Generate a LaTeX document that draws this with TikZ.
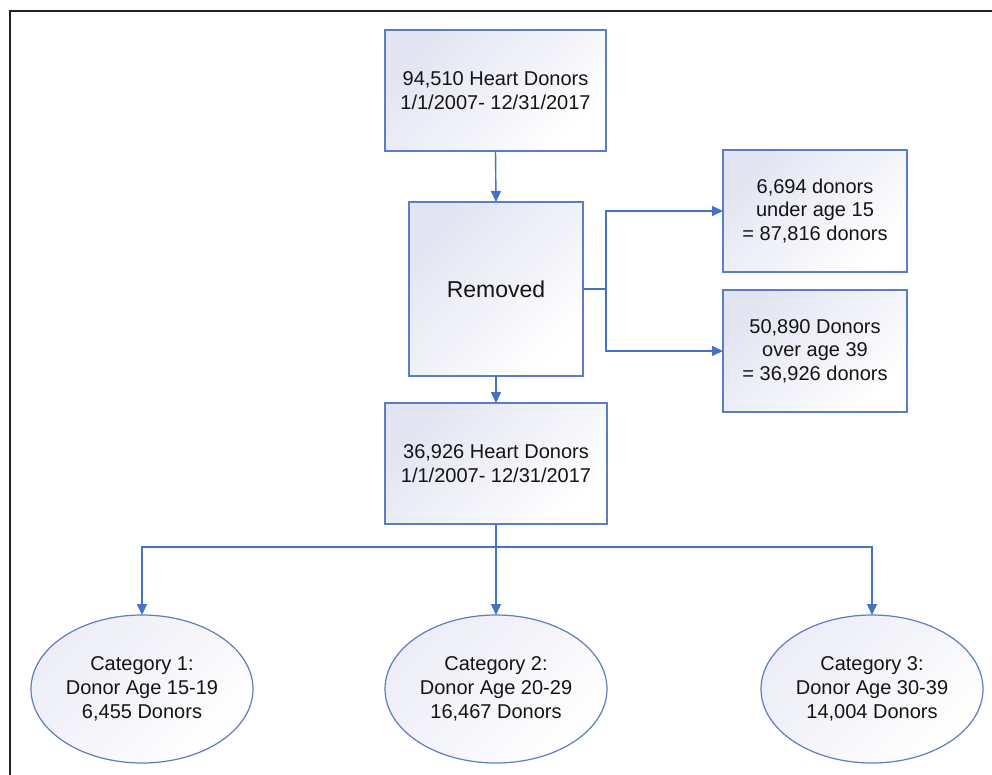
\documentclass[tikz,border=0pt]{standalone}
\usepackage{fontspec}
\setmainfont{Liberation Sans}
\usetikzlibrary{shapes.geometric,arrows.meta}
\definecolor{lav}{HTML}{E2E4F2}
\definecolor{lavlight}{HTML}{ECEDF6}
\definecolor{edge}{HTML}{5B7DC3}
\definecolor{conn}{HTML}{4472C4}
\definecolor{ink}{HTML}{141414}
\definecolor{frame}{HTML}{222222}
\tikzset{
  shadefill/.style={top color=lav, bottom color=white, shading angle=45},
  boxnode/.style={draw=edge, line width=1.4pt, shadefill, inner sep=0pt, outer sep=0pt,
    align=center, text=ink, font=\fontsize{20}{23.3}\selectfont},
  ellnode/.style={ellipse, draw=edge, line width=1.2pt, top color=lavlight, bottom color=white,
    shading angle=45, inner sep=0pt, outer sep=0pt,
    minimum width=222pt, minimum height=148pt},
  elltext/.style={align=center, text=ink, font=\fontsize{20}{24}\selectfont, inner sep=0pt},
  arr/.style={draw=conn, line width=1.4pt, -{Triangle[length=11pt,width=10pt]}},
  ln/.style={draw=conn, line width=1.4pt}
}
\begin{document}
\begin{tikzpicture}[x=1pt,y=-1pt]
\useasboundingbox (0,0) rectangle (992,775);
\draw[frame, line width=2.8pt] (10,775) -- (10,11) -- (992,11);

\node[boxnode, minimum width=221pt, minimum height=121pt] (b1) at (495.5,90.5)
  {94,510 Heart Donors\\1/1/2007- 12/31/2017};
\node[boxnode, minimum width=174pt, minimum height=174pt, font=\fontsize{23}{26}\selectfont] (rem) at (496,289) {Removed};
\node[boxnode, minimum width=222pt, minimum height=121pt] (b3) at (496,463.5)
  {36,926 Heart Donors\\1/1/2007- 12/31/2017};
\node[boxnode, minimum width=184pt, minimum height=122pt] (ba) at (815,211)
  {6,694 donors\\under age 15\\= 87,816 donors};
\node[boxnode, minimum width=184pt, minimum height=122pt] (bb) at (815,351)
  {50,890 Donors\\over age 39\\= 36,926 donors};

\node[ellnode] (e1) at (142,689) {};
\node[ellnode] (e2) at (496,689) {};
\node[ellnode] (e3) at (872,689) {};
\node[elltext] (t1) at (e1.center) {Category 1:\\Donor Age 15-19\\6,455 Donors};
\node[elltext] (t2) at (e2.center) {Category 2:\\Donor Age 20-29\\16,467 Donors};
\node[elltext] (t3) at (e3.center) {Category 3:\\Donor Age 30-39\\14,004 Donors};

\coordinate (split) at (606,289);
\coordinate (bus) at (496,547);

\draw[arr] (b1.south) -- (rem.north);
\draw[arr] (rem.south) -- (b3.north);
\draw[ln] (rem.east) -- (split);
\draw[arr] (split) |- (ba.west);
\draw[arr] (split) |- (bb.west);
\draw[ln] (b3.south) -- (bus);
\draw[arr] (bus) -| (e1.north);
\draw[arr] (bus) -- (e2.north);
\draw[arr] (bus) -| (e3.north);
\end{tikzpicture}
\end{document}
